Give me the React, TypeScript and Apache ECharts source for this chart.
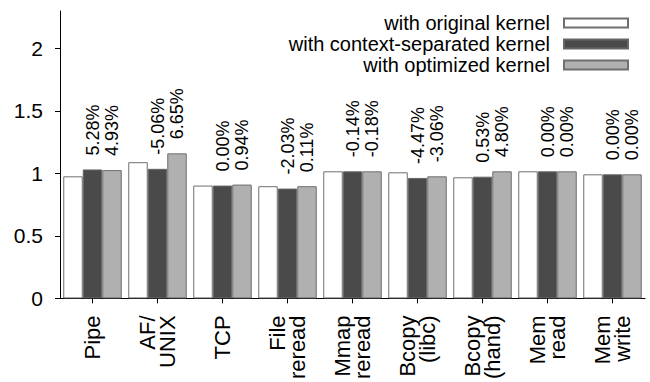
import React, { useEffect, useRef } from "react";
import * as echarts from "echarts";

const categories = [
  "Pipe",
  "AF/\nUNIX",
  "TCP",
  "File\nreread",
  "Mmap\nreread",
  "Bcopy\n(libc)",
  "Bcopy\n(hand)",
  "Mem\nread",
  "Mem\nwrite",
];
const seriesNames = [
  "with original kernel",
  "with context-separated kernel",
  "with optimized kernel",
];
const originalValues = [0.977, 1.09, 0.903, 0.898, 1.017, 1.009, 0.969, 1.017, 0.993];
const separatedValues = [1.032, 1.037, 0.903, 0.879, 1.017, 0.964, 0.974, 1.017, 0.993];
const optimizedValues = [1.027, 1.161, 0.911, 0.898, 1.017, 0.977, 1.017, 1.017, 0.993];
const separatedLabels = ["5.28%", "-5.06%", "0.00%", "-2.03%", "-0.14%", "-4.47%", "0.53%", "0.00%", "0.00%"];
const optimizedLabels = ["4.93%", "6.65%", "0.94%", "0.11%", "-0.18%", "-3.06%", "4.80%", "0.00%", "0.00%"];
const yTicks = [0, 0.5, 1, 1.5, 2];

const FONT = "'Liberation Sans', Arial, Helvetica, sans-serif";

export default function App() {
  const ref = useRef<HTMLDivElement>(null);
  useEffect(() => {
    if (!ref.current) return;
    const chart = echarts.init(ref.current, null, { renderer: "svg" });
    const barLabel = (texts: string[]) => ({
      show: true,
      position: "top",
      rotate: 90,
      align: "left",
      verticalAlign: "middle",
      distance: 14,
      fontSize: 18,
      fontFamily: FONT,
      color: "#000",
      formatter: (p: any) => texts[p.dataIndex],
    });
    chart.setOption({
      animation: false,
      backgroundColor: "#fff",
      textStyle: { fontFamily: FONT },
      grid: { left: 60, right: 5, top: 11, bottom: 80, containLabel: false },
      legend: {
        orient: "vertical",
        right: 16,
        top: 8,
        align: "right",
        icon: "rect",
        itemWidth: 64,
        itemHeight: 9,
        itemGap: 1,
        textStyle: {
          fontSize: 20,
          fontFamily: FONT,
          color: "#000",
          lineHeight: 20,
          padding: [0, 9, 0, 0],
        },
        data: seriesNames,
      },
      xAxis: {
        type: "category",
        data: categories,
        axisLine: { show: true, lineStyle: { color: "#000", width: 1 } },
        axisTick: { show: true, alignWithLabel: true, length: 5, lineStyle: { color: "#000" } },
        axisLabel: {
          rotate: 90,
          margin: 17,
          fontSize: 22,
          lineHeight: 20,
          fontFamily: FONT,
          color: "#000",
          interval: 0,
        },
        splitLine: { show: false },
      },
      yAxis: {
        type: "value",
        min: 0,
        max: 2.3,
        interval: 0.5,
        axisLine: { show: true, lineStyle: { color: "#000", width: 1 } },
        axisTick: { show: true, length: 5, lineStyle: { color: "#000" }, customValues: yTicks },
        axisLabel: {
          fontSize: 21,
          fontFamily: FONT,
          color: "#000",
          margin: 17,
          customValues: yTicks,
        },
        splitLine: { show: false },
      },
      series: [
        {
          name: seriesNames[0],
          type: "bar",
          data: originalValues,
          barWidth: 19.5,
          barGap: "0%",
          itemStyle: { color: "#ffffff", borderColor: "#6f6f6f", borderWidth: 1 },
        },
        {
          name: seriesNames[1],
          type: "bar",
          data: separatedValues,
          barWidth: 19.5,
          barGap: "0%",
          itemStyle: { color: "#4a4a4a", borderColor: "#666", borderWidth: 1 },
          label: barLabel(separatedLabels),
        },
        {
          name: seriesNames[2],
          type: "bar",
          data: optimizedValues,
          barWidth: 19.5,
          barGap: "0%",
          itemStyle: { color: "#b0b0b0", borderColor: "#6f6f6f", borderWidth: 1 },
          label: barLabel(optimizedLabels),
        },
      ],
    });
    return () => chart.dispose();
  }, []);
  return (
    <div
      ref={ref}
      style={{ position: "fixed", left: 0, top: 0, width: 650, height: 382 }}
    />
  );
}
